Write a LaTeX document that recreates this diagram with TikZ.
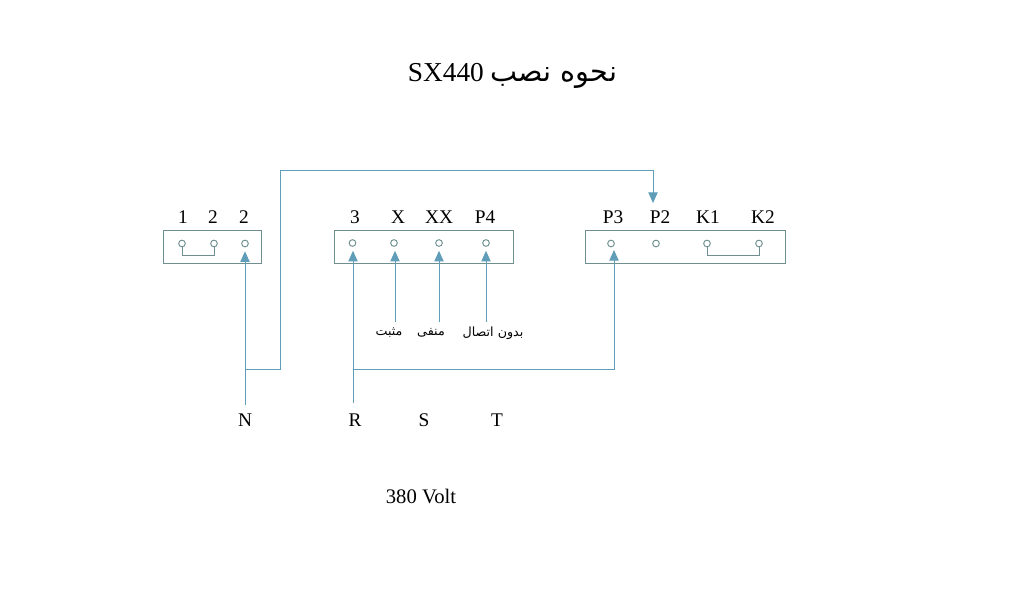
\documentclass[tikz,border=0pt]{standalone}
\usepackage{fontspec}
\setmainfont{Liberation Serif}
\newfontfamily\farsifont[Script=Arabic]{DejaVu Sans}
\TeXXeTstate=1
\usepackage{xcolor}
\usetikzlibrary{arrows.meta}
\definecolor{wireblue}{HTML}{5F9DB8}
\definecolor{boxgray}{HTML}{6E8E90}
\tikzset{
    box/.style={draw=boxgray, line width=0.75pt, fill=white, minimum height=24.75pt, inner sep=0pt},
    term/.style={circle, draw=boxgray, line width=0.7pt, fill=white, minimum size=5pt, inner sep=0pt},
    pin/.style={font=\fontsize{14.5}{16}\selectfont, inner sep=1pt},
    note/.style={font=\farsifont\fontsize{9.5}{11}\selectfont, inner sep=1pt},
    wire/.style={draw=wireblue, line width=0.75pt},
    feed/.style={wire, -{Triangle[length=8pt,width=7pt]}, shorten >=3pt},
    jumper/.style={draw=boxgray, line width=0.7pt}
}
\begin{document}
\begin{tikzpicture}[x=0.75pt,y=-0.75pt]
    \useasboundingbox[fill=white] (0,0) rectangle (1024,595);

    \node[font=\fontsize{20.5}{24}\selectfont, inner sep=0pt] (title) at (512.5,76)
        {\beginR{\farsifont\fontsize{21.5}{24}\selectfont نحوه نصب} \beginL SX440\endL\endR};

    % terminal boxes
    \node[box, minimum width=73.5pt] (boxA) at (212,247.5) {};
    \node[box, minimum width=134.25pt] (boxB) at (423.5,247.5) {};
    \node[box, minimum width=150pt] (boxC) at (685,247.5) {};

    \node[term] (tA) at (182,243.5) {};
    \node[term] (tB) at (214,243.5) {};
    \node[term] (tN) at (245,243.5) {};
    \node[term] (tR) at (352.5,243) {};
    \node[term] (tX) at (394,243) {};
    \node[term] (tXX) at (439,243) {};
    \node[term] (tPf) at (486,243) {};
    \node[term] (tPt) at (611,243.5) {};
    \node[term] (tPd) at (656,243.5) {};
    \node[term] (tKa) at (707,243.5) {};
    \node[term] (tKb) at (759,243.5) {};

    \node[pin] (lA) at (183,217) {1};
    \node[pin] (lB) at (213,217) {2};
    \node[pin] (lC) at (244,217) {2};
    \node[pin] (lR) at (355,217) {3};
    \node[pin] (lX) at (398,217) {X};
    \node[pin] (lXX) at (439,217) {XX};
    \node[pin] (lPf) at (485,217) {P4};
    \node[pin] (lPt) at (613,217) {P3};
    \node[pin] (lPd) at (660,217) {P2};
    \node[pin] (lKa) at (708,217) {K1};
    \node[pin] (lKb) at (763,217) {K2};

    % mains and notes
    \node[pin] (mainN) at (245,420) {N};
    \node[pin] (mainR) at (355,420) {R};
    \node[pin] (mainS) at (424,420) {S};
    \node[pin] (mainT) at (497,420) {T};
    \node[pin, font=\fontsize{15.5}{18}\selectfont] (volt) at (421,496.5) {380 Volt};

    \node[note] (plus) at (389,333) {\beginR مثبت\endR};
    \node[note] (minus) at (431,333) {\beginR منفی\endR};
    \node[note] (open) at (493,333) {\beginR بدون اتصال\endR};

    % wires
    \coordinate (endN) at (245,405);
    \coordinate (endR) at (353,403);
    \coordinate (jN) at (245,369);
    \coordinate (jR) at (353,369);
    \coordinate (upA) at (280,369);
    \coordinate (upB) at (280,171);
    \coordinate (upC) at (653,171);
    \coordinate (inPd) at (653,203);
    \coordinate (cornerP) at (614,369);
    \coordinate (inPt) at (614,250);
    \coordinate (fromX) at (395,322);
    \coordinate (fromXX) at (439,322);
    \coordinate (fromPf) at (486,322);

    \draw[feed] (endN) -- (tN.south);
    \draw[feed] (endR) -- (endR |- tR.south);
    \draw[feed] (fromX) -- (fromX |- tX.south);
    \draw[feed] (fromXX) -- (tXX.south);
    \draw[feed] (fromPf) -- (tPf.south);
    \draw[feed, shorten >=0pt] (jR) -- (cornerP) -- (inPt);
    \draw[feed, shorten >=0pt] (jN) -- (upA) -- (upB) -- (upC) -- (inPd);

    % jumpers
    \draw[jumper] (tA.south) |- ([yshift=-6pt]tA.south -| tB) -- (tB.south);
    \draw[jumper] (tKa.south) |- ([yshift=-6pt]tKa.south -| tKb) -- (tKb.south);
\end{tikzpicture}
\end{document}
